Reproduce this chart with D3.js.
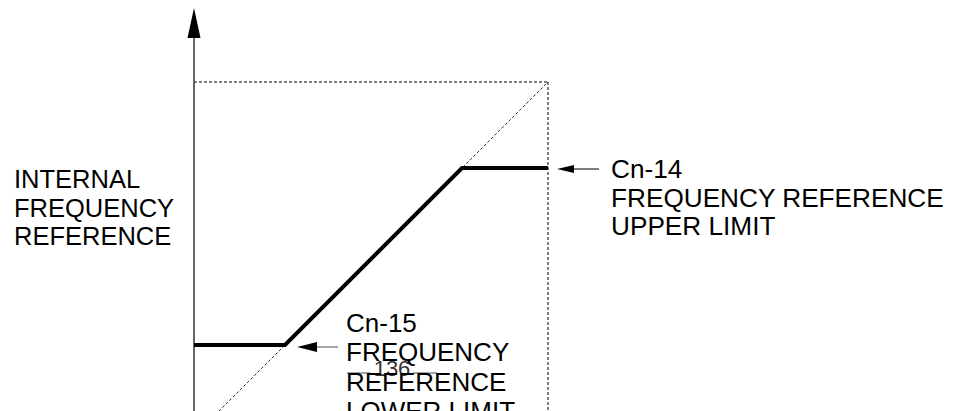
<!DOCTYPE html>
<html><head><meta charset="utf-8">
<script src="https://cdn.jsdelivr.net/npm/d3@7"></script>
<style>body{margin:0;background:#fff}svg{display:block}text{font-family:"Liberation Sans",Arial,sans-serif;fill:#000}</style>
</head><body>
<script>
// Data (percent of max frequency)
const inputPct = [0, 25.7, 75.7, 100];
const outputPct = [25.7, 25.7, 75.7, 75.7];
const diagonalIn = [0, 100];
const diagonalOut = [0, 100];
const lowerLimit = 25.7, upperLimit = 75.7;
const yLabel = ["INTERNAL", "FREQUENCY", "REFERENCE"];
const upperLabel = ["Cn-14", "FREQUENCY REFERENCE", "UPPER LIMIT"];
const lowerLabel = ["Cn-15", "FREQUENCY", "REFERENCE", "LOWER LIMIT"];
const pageNo = "136";

const W = 955, H = 411;
const svg = d3.select("body").append("svg").attr("width", W).attr("height", H);
const x = d3.scaleLinear().domain([0, 100]).range([194, 548]);
const y = d3.scaleLinear().domain([0, 100]).range([436, 82]);

// dashed frame
const dash = "3,2";
svg.append("line").attr("x1", x(0)).attr("x2", x(100)).attr("y1", y(100)).attr("y2", y(100))
  .attr("stroke", "#000").attr("stroke-width", 1).attr("stroke-dasharray", dash);
svg.append("line").attr("x1", x(100)).attr("x2", x(100)).attr("y1", y(100)).attr("y2", H)
  .attr("stroke", "#000").attr("stroke-width", 1).attr("stroke-dasharray", dash);
svg.append("path").datum(diagonalIn.map((d, i) => [d, diagonalOut[i]]))
  .attr("d", d3.line().x(d => x(d[0])).y(d => y(d[1])))
  .attr("fill", "none").attr("stroke", "#000").attr("stroke-width", 0.8).attr("stroke-dasharray", dash);

// y axis with arrow
svg.append("line").attr("x1", x(0)).attr("x2", x(0)).attr("y1", H).attr("y2", 36)
  .attr("stroke", "#333").attr("stroke-width", 1.5);
svg.append("path").attr("d", `M${x(0)},8 L${x(0)-6.5},38 L${x(0)+6.5},38 Z`).attr("fill", "#000");

// thick characteristic
svg.append("path").datum(inputPct.map((d, i) => [d, outputPct[i]]))
  .attr("d", d3.line().x(d => x(d[0])).y(d => y(d[1])))
  .attr("fill", "none").attr("stroke", "#000").attr("stroke-width", 4).attr("stroke-linejoin", "miter");

// annotation arrows
function arrow(tipX, tipY, endX, col, hl, hw) {
  svg.append("line").attr("x1", tipX + hl - 1).attr("x2", endX).attr("y1", tipY).attr("y2", tipY)
    .attr("stroke", col).attr("stroke-width", 1.3);
  svg.append("path").attr("d", `M${tipX},${tipY} L${tipX+hl},${tipY-hw} L${tipX+hl},${tipY+hw} Z`).attr("fill", "#000");
}
arrow(557, y(upperLimit) + 1, 599, "#333", 17, 4);
arrow(297, y(lowerLimit) + 2, 338, "#777", 20, 5);

function block(lines, x0, y0, dy, fs) {
  const t = svg.append("text").attr("font-size", fs);
  lines.forEach((l, i) => t.append("tspan").attr("x", x0).attr("y", y0 + i * dy).text(l));
}
block(yLabel, 14, 188, 28.5, 25.5);
block(upperLabel, 611, 178, 28.5, 26.2);

// page number with gray rules
svg.append("line").attr("x1", 347).attr("x2", 370).attr("y1", 373).attr("y2", 373).attr("stroke", "#888").attr("stroke-width", 1.5);
svg.append("line").attr("x1", 413).attr("x2", 437).attr("y1", 373).attr("y2", 373).attr("stroke", "#888").attr("stroke-width", 1.5);
svg.append("text").attr("x", 392).attr("y", 376).attr("text-anchor", "middle").attr("font-size", 22)
  .style("fill", "#333").text(pageNo);

block(lowerLabel, 346, 332, 29.3, 26);
</script>
</body></html>
